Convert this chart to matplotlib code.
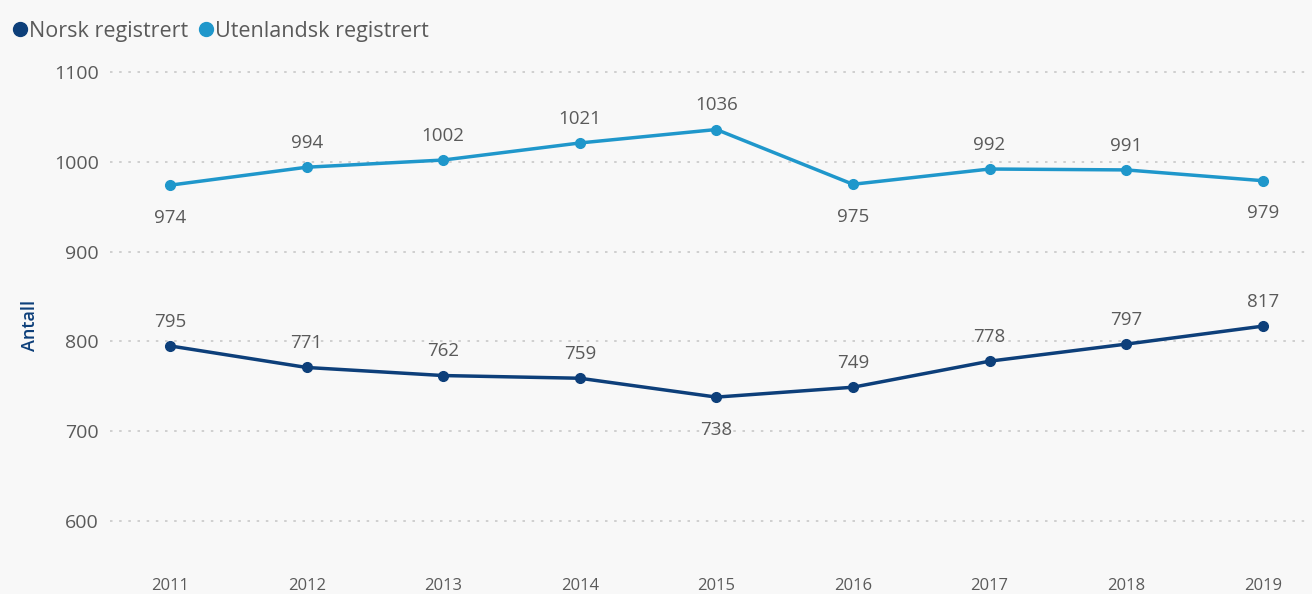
import matplotlib
matplotlib.use("Agg")
import matplotlib.pyplot as plt
from matplotlib.lines import Line2D

years = [2011, 2012, 2013, 2014, 2015, 2016, 2017, 2018, 2019]
norsk = [795, 771, 762, 759, 738, 749, 778, 797, 817]
utenlandsk = [974, 994, 1002, 1021, 1036, 975, 992, 991, 979]
norsk_pos = ["a", "a", "a", "a", "b", "a", "a", "a", "a"]
uten_pos = ["b", "a", "a", "a", "a", "b", "a", "a", "b"]
yticks = [600, 700, 800, 900, 1000, 1100]

plt.rcParams['font.family'] = ['Open Sans', 'DejaVu Sans']
bg = "#f8f8f8"
c_norsk = "#0d3f7a"
c_uten = "#1f97cb"
txt = "#5a5a5a"

fig = plt.figure(figsize=(13.12, 5.94), dpi=100, facecolor=bg)
ax = fig.add_axes([110/1312, 1-560/594, (1305-110)/1312, 500/594], facecolor=bg)

ax.plot(years, utenlandsk, color=c_uten, lw=2.5, marker="o", ms=7, zorder=3)
ax.plot(years, norsk, color=c_norsk, lw=2.5, marker="o", ms=7, zorder=3)

def label(series, pos):
    for x, v, p in zip(years, series, pos):
        off = 11 if p == "a" else -17
        ax.annotate(str(v), (x, v), xytext=(0, off), textcoords="offset points",
                    ha="center", va="bottom" if p == "a" else "top",
                    fontsize=13.5, color=txt)

label(utenlandsk, uten_pos)
label(norsk, norsk_pos)

ax.set_xlim(2010.56, 2019.31)
ax.set_ylim(556.6, 1113.4)
ax.set_yticks(yticks)
ax.set_yticklabels([str(t) for t in yticks])
ax.set_xticks(years)
ax.set_xticklabels([str(y) for y in years])
ax.tick_params(axis="y", length=0, labelsize=14, labelcolor=txt, pad=8)
ax.tick_params(axis="x", length=0, labelsize=12, labelcolor=txt, pad=13)
ax.grid(axis="y", color="#c8c8c8", linestyle=(0, (1.5, 4)), lw=1.2)
ax.grid(axis="x", visible=False)
for s in ax.spines.values():
    s.set_visible(False)

fig.text(30/1312, 1-325/594, "Antall", rotation=90, ha="center", va="center",
         fontsize=13, color=c_norsk, fontweight="semibold")

handles = [Line2D([], [], color=c_norsk, marker="o", ls="", ms=10),
           Line2D([], [], color=c_uten, marker="o", ls="", ms=10)]
fig.legend(handles, ["Norsk registrert", "Utenlandsk registrert"], loc="upper left",
           bbox_to_anchor=(10/1312, 1-21/594), ncol=2, frameon=False, fontsize=15.5,
           handletextpad=0.0, columnspacing=0.35, handlelength=0.9, labelcolor=txt,
           borderaxespad=0, borderpad=0)

fig.savefig("out.png", dpi=100, facecolor=bg)
